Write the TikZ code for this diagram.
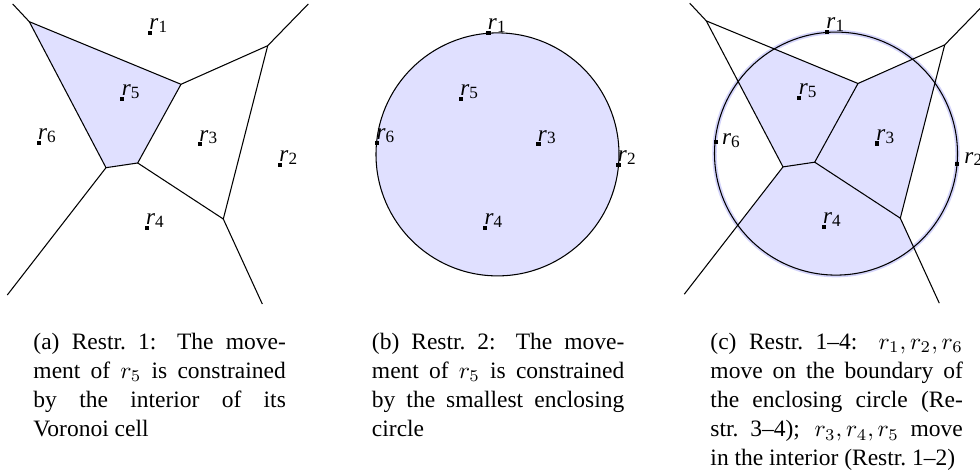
\documentclass[tikz,border=0pt]{standalone}
\usepackage[no-math]{fontspec}
\setmainfont{Liberation Serif}
\usetikzlibrary{calc}
\definecolor{cellblue}{RGB}{224,224,255}
\definecolor{haloblue}{RGB}{212,212,250}
\tikzset{
  vline/.style={line width=0.45pt, line join=miter},
  cellfill/.style={fill=cellblue},
  robotpt/.style={rectangle, fill=black, inner sep=0pt, minimum size=1.8pt},
  lab/.style={anchor=base west, inner sep=0pt, font=\fontsize{9.8}{11}\selectfont},
  captionbox/.style={anchor=base west, inner sep=0pt, text width=107.4pt, align=justify,
    font=\fontsize{10}{12.38}\selectfont}
}
\newcommand\rsub[1]{\textit{r}\raisebox{-1.1pt}{\fontsize{7.3}{7.3}\selectfont #1}}
\newcommand\vorcoords[1]{%
  \coordinate (#1A) at (29.3,21.7);
  \coordinate (#1Ae) at (12.7,4);
  \coordinate (#1B) at (181,84.3);
  \coordinate (#1C) at (267.7,45.7);
  \coordinate (#1Ce) at (308.3,4);
  \coordinate (#1D) at (137.7,163);
  \coordinate (#1E) at (106,167.7);
  \coordinate (#1Ee) at (7.3,295);
  \coordinate (#1F) at (223.3,219);
  \coordinate (#1Fe) at (262.3,304);
  \coordinate (#1O) at (159,154.4);
}
\newcommand\robots[1]{%
  \node[robotpt] (#1r1) at (150,32.7) {};
  \node[robotpt] (#1r2) at (280,165) {};
  \node[robotpt] (#1r3) at (200,144.3) {};
  \node[robotpt] (#1r4) at (146.7,227.7) {};
  \node[robotpt] (#1r5) at (122.3,98.7) {};
  \node[robotpt] (#1r6) at (38.7,142.7) {};
}
\newcommand\rlab[4]{\node[lab] (#1lab) at ($(#1)+(#3,#4)$) {\rsub{#2}};}
\newcommand\voredges[1]{%
  \draw[vline] (#1Ae) -- (#1A) -- (#1B) -- (#1C) -- (#1Ce);
  \draw[vline] (#1C) -- (#1F) -- (#1Fe);
  \draw[vline] (#1B) -- (#1D) -- (#1F);
  \draw[vline] (#1Ee) -- (#1E) -- (#1D);
  \draw[vline] (#1E) -- (#1A);
}
\begin{document}
\begin{tikzpicture}[x=0.4255pt,y=-0.4255pt]
\useasboundingbox (0,0) rectangle (980,476);
% ---------- panel (a)
\begin{scope}
  \vorcoords{a}
  \fill[cellfill] (aA) -- (aB) -- (aD) -- (aE) -- cycle;
  \voredges{a}
  \robots{a}
  \foreach \i in {1,...,6} {\rlab{ar\i}{\i}{-1}{-3}}
\end{scope}
% ---------- panel (b)
\begin{scope}[shift={(338.5,0)}]
  \vorcoords{b}
  \filldraw[cellfill, draw=black, line width=0.45pt] (bO) circle[radius=121.5];
  \robots{b}
  \foreach \i in {1,...,6} {\rlab{br\i}{\i}{-1}{-3}}
\end{scope}
% ---------- panel (c)
\begin{scope}[shift={(677,-0.8)}]
  \vorcoords{c}
  \draw[haloblue, line width=1.9pt] (cO) circle[radius=121.5];
  \begin{scope}
    \clip (cA) -- (cB) -- (cC) -- (cF) -- (cFe) -- (cEe) -- (cE) -- cycle;
    \fill[cellfill] (cO) circle[radius=121.5];
  \end{scope}
  \voredges{c}
  \draw[vline] (cO) circle[radius=121.5];
  \robots{c}
  \rlab{cr1}{1}{-1}{-3}
  \rlab{cr2}{2}{7}{-1}
  \rlab{cr3}{3}{-1}{-3}
  \rlab{cr4}{4}{-1}{-3}
  \rlab{cr5}{5}{-1}{-3}
  \rlab{cr6}{6}{6}{3}
\end{scope}
% ---------- captions
\node[captionbox] (capa) at (33,349.3)
  {(a) Restr.~1: The move-\linebreak ment of $r_5$ is constrained\linebreak by the interior of its\linebreak Voronoi cell};
\node[captionbox] (capb) at (371.5,349.3)
  {(b) Restr.~2: The move-\linebreak ment of $r_5$ is constrained\linebreak by the smallest enclosing\linebreak circle};
\node[captionbox] (capc) at (710,349.3)
  {\parfillskip=0pt (c) Restr.~1--4: $r_1, r_2, r_6$\linebreak move on the boundary of\linebreak the enclosing circle (Re-\linebreak str.~3--4); $r_3, r_4, r_5$ move\linebreak in the interior (Restr.~1--2)};
\end{tikzpicture}
\end{document}
